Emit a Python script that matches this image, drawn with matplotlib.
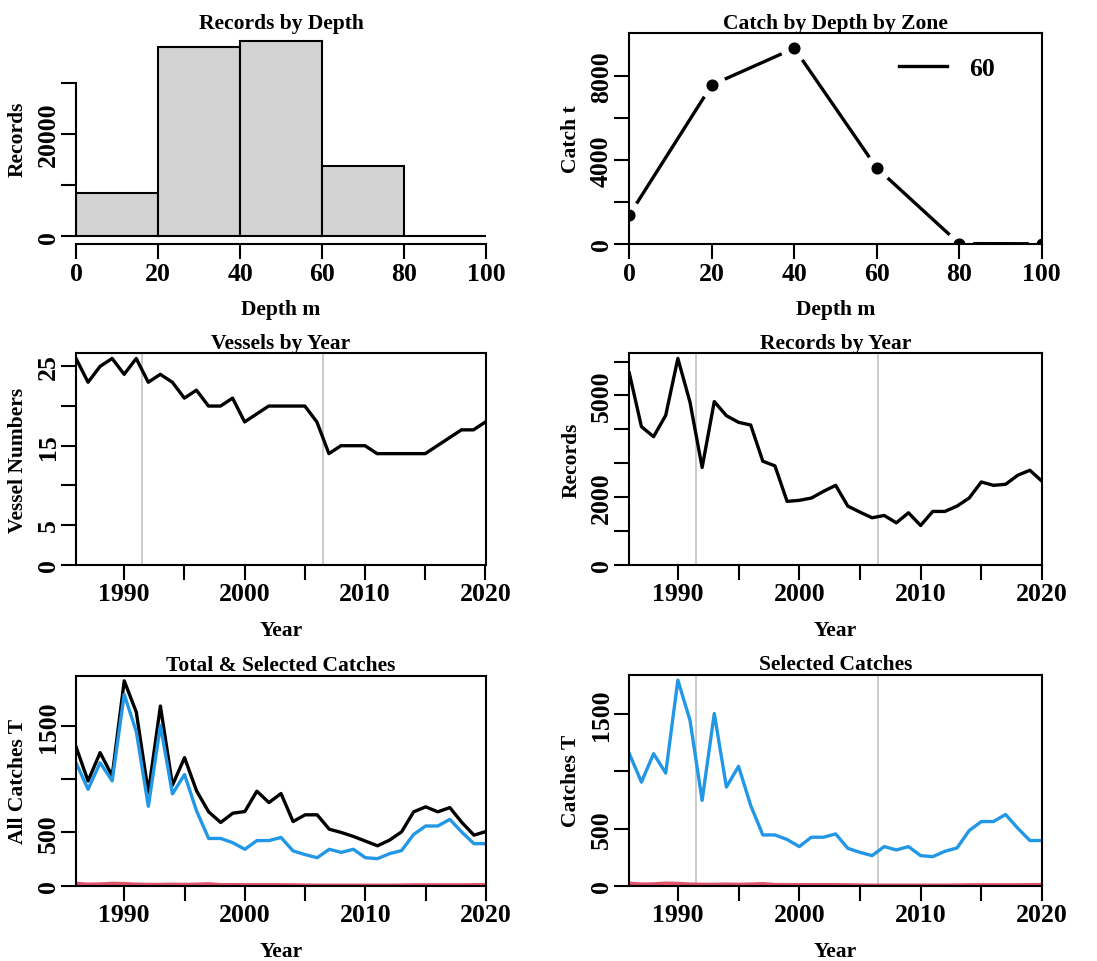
import matplotlib
matplotlib.use("Agg")
import matplotlib.pyplot as plt
import numpy as np

# Data
depth_edges = [0, 20, 40, 60, 80, 100]
depth_records = [8400, 37000, 38200, 13700, 80]

zone_depths = [0, 20, 40, 60, 80, 100]
zone_catch = [1380, 7570, 9320, 3620, 20, 10]

years = list(range(1986, 2021))
vessels = [26, 23, 25, 26, 24, 26, 23, 24, 23, 21, 22, 20, 20, 21, 18, 19, 20, 20,
           20, 20, 18, 14, 15, 15, 15, 14, 14, 14, 14, 14, 15, 16, 17, 17, 18]
records = [5660, 4075, 3780, 4410, 6090, 4800, 2870, 4817, 4400, 4204, 4125, 3056,
           2918, 1870, 1900, 1968, 2166, 2344, 1731, 1553, 1385, 1454, 1236, 1533,
           1157, 1573, 1573, 1731, 1968, 2443, 2344, 2374, 2641, 2789, 2463]
total_catch = [1306, 984, 1250, 1031, 1925, 1631, 875, 1688, 944, 1203, 891, 694,
               594, 681, 697, 888, 781, 866, 603, 666, 666, 531, 500, 463, 419, 375,
               428, 506, 694, 741, 694, 734, 594, 475, 509]
selected_catch = [1155, 906, 1155, 985, 1798, 1447, 746, 1506, 863, 1044, 702, 444,
                  444, 404, 342, 424, 424, 453, 327, 292, 263, 342, 313, 342, 263, 254,
                  301, 330, 482, 561, 561, 623, 503, 395, 395]
other_catch = [22, 14, 16, 22, 20, 14, 12, 12, 14, 12, 14, 18, 10, 10, 9, 9, 9, 9,
               8, 6, 5, 5, 5, 5, 5, 5, 5, 6, 8, 8, 8, 8, 8, 9, 10]
period_breaks = [1991.5, 2006.5]

W, H = 1097, 962
plt.rcParams["font.family"] = ["Liberation Serif", "DejaVu Serif"]
plt.rcParams["font.weight"] = "bold"
TICK_FS = 18.5
LAB_FS = 15.5
TITLE_FS = 15.5
LW = 2.4
BLUE = "#2297E6"
RED = "#DF536B"

fig = plt.figure(figsize=(W / 100, H / 100), dpi=100)


def px_axes(left, top, right, bottom):
    return fig.add_axes([left / W, 1 - bottom / H, (right - left) / W, (bottom - top) / H])


def style(ax, title, xlab, ylab, w, h, box=True):
    for s in ax.spines.values():
        s.set_linewidth(1.5)
        s.set_visible(box)
    ax.tick_params(direction="out", length=10.8, width=1.5, labelsize=TICK_FS)
    ax.tick_params(axis="x", pad=2)
    ax.tick_params(axis="y", pad=1, labelrotation=90)
    for lab in ax.get_yticklabels():
        lab.set_va("center")
    ax.set_title(title, fontsize=TITLE_FS, fontweight="bold", pad=4)
    ax.set_xlabel(xlab, fontsize=LAB_FS, fontweight="bold")
    ax.set_ylabel(ylab, fontsize=LAB_FS, fontweight="bold")
    ax.xaxis.set_label_coords(0.5, -65 / h)
    ax.xaxis.label.set_va("center")
    ax.yaxis.set_label_coords(-58 / w, 0.5)
    ax.yaxis.label.set_va("center")


def year_axis(ax):
    ax.set_xlim(1986, 2020)
    ticks = list(range(1990, 2021, 5))
    ax.set_xticks(ticks)
    ax.set_xticklabels([str(t) if t % 10 == 0 else "" for t in ticks])
    for b in period_breaks:
        ax.axvline(b, color="#BEBEBE", lw=1.1, zorder=1)


# ---- Records by Depth (histogram)
ax1 = px_axes(76, 34.5, 486, 245)
widths = np.diff(depth_edges)
ax1.bar(depth_edges[:-1], depth_records, width=widths, align="edge",
        color="#D3D3D3", edgecolor="black", linewidth=1.5)
top = max(depth_records)
ax1.set_xlim(0, 100)
ax1.set_ylim(-0.04 * top, top * 1.04)
ax1.set_xticks(depth_edges)
ax1.set_yticks([0, 10000, 20000, 30000])
ax1.set_yticklabels(["0", "", "20000", ""])
style(ax1, "Records by Depth", "Depth m", "Records", 410, 210.5, box=False)
ax1.spines["left"].set_visible(True)
ax1.spines["bottom"].set_visible(True)
ax1.spines["left"].set_bounds(0, 30000)
ax1.spines["bottom"].set_bounds(0, 100)

# ---- Catch by Depth by Zone
ax2 = px_axes(629.3, 34.3, 1041.7, 245)
ax2.plot(zone_depths, zone_catch, color="black", lw=LW, zorder=2, label="60")
ax2.plot(zone_depths, zone_catch, ls="none", marker="o", ms=20, mfc="white",
         mec="none", zorder=2.1)
ax2.plot(zone_depths, zone_catch, ls="none", marker="o", ms=7.7, color="black", zorder=3)
ax2.set_xlim(0, 100)
ax2.set_ylim(0, 10030)
ax2.set_xticks(zone_depths)
ax2.set_yticks([0, 2000, 4000, 6000, 8000])
ax2.set_yticklabels(["0", "", "4000", "", "8000"])
style(ax2, "Catch by Depth by Zone", "Depth m", "Catch t", 412.4, 210.7)
ax2.legend(loc="center left", bbox_to_anchor=(0.654, 0.831), frameon=False,
           borderpad=0, borderaxespad=0, handlelength=1.87, handletextpad=0.85,
           prop={"size": TICK_FS, "weight": "bold"})

# ---- Vessels by Year
ax3 = px_axes(76, 354.3, 485.5, 565.7)
year_axis(ax3)
ax3.plot(years, vessels, color="black", lw=LW)
ax3.set_ylim(0, max(vessels) * 1.025)
ax3.set_yticks([0, 5, 10, 15, 20, 25])
ax3.set_yticklabels(["0", "5", "", "15", "", "25"])
style(ax3, "Vessels by Year", "Year", "Vessel Numbers", 409.5, 211.4)

# ---- Records by Year
ax4 = px_axes(629.3, 354.3, 1042, 565.7)
year_axis(ax4)
ax4.plot(years, records, color="black", lw=LW)
ax4.set_ylim(0, max(records) * 1.025)
ax4.set_yticks(range(0, 6001, 1000))
ax4.set_yticklabels(["0", "", "2000", "", "", "5000", ""])
style(ax4, "Records by Year", "Year", "Records", 412.7, 211.4)

# ---- Total & Selected Catches
ax5 = px_axes(76, 676.7, 486, 886.7)
ax5.set_xlim(1986, 2020)
ticks = list(range(1990, 2021, 5))
ax5.set_xticks(ticks)
ax5.set_xticklabels([str(t) if t % 10 == 0 else "" for t in ticks])
ax5.plot(years, total_catch, color="black", lw=LW)
ax5.plot(years, selected_catch, color=BLUE, lw=LW)
ax5.plot(years, other_catch, color=RED, lw=LW)
ax5.set_ylim(0, max(total_catch) * 1.025)
ax5.set_yticks([0, 500, 1000, 1500])
ax5.set_yticklabels(["0", "500", "", "1500"])
style(ax5, "Total & Selected Catches", "Year", "All Catches T", 410, 210)

# ---- Selected Catches
ax6 = px_axes(629.3, 676, 1042, 886.7)
year_axis(ax6)
ax6.plot(years, selected_catch, color=BLUE, lw=LW)
ax6.plot(years, other_catch, color=RED, lw=LW)
ax6.set_ylim(0, max(selected_catch) * 1.025)
ax6.set_yticks([0, 500, 1000, 1500])
ax6.set_yticklabels(["0", "500", "", "1500"])
style(ax6, "Selected Catches", "Year", "Catches T", 412.7, 210.7)

fig.savefig("out.png", dpi=100)
